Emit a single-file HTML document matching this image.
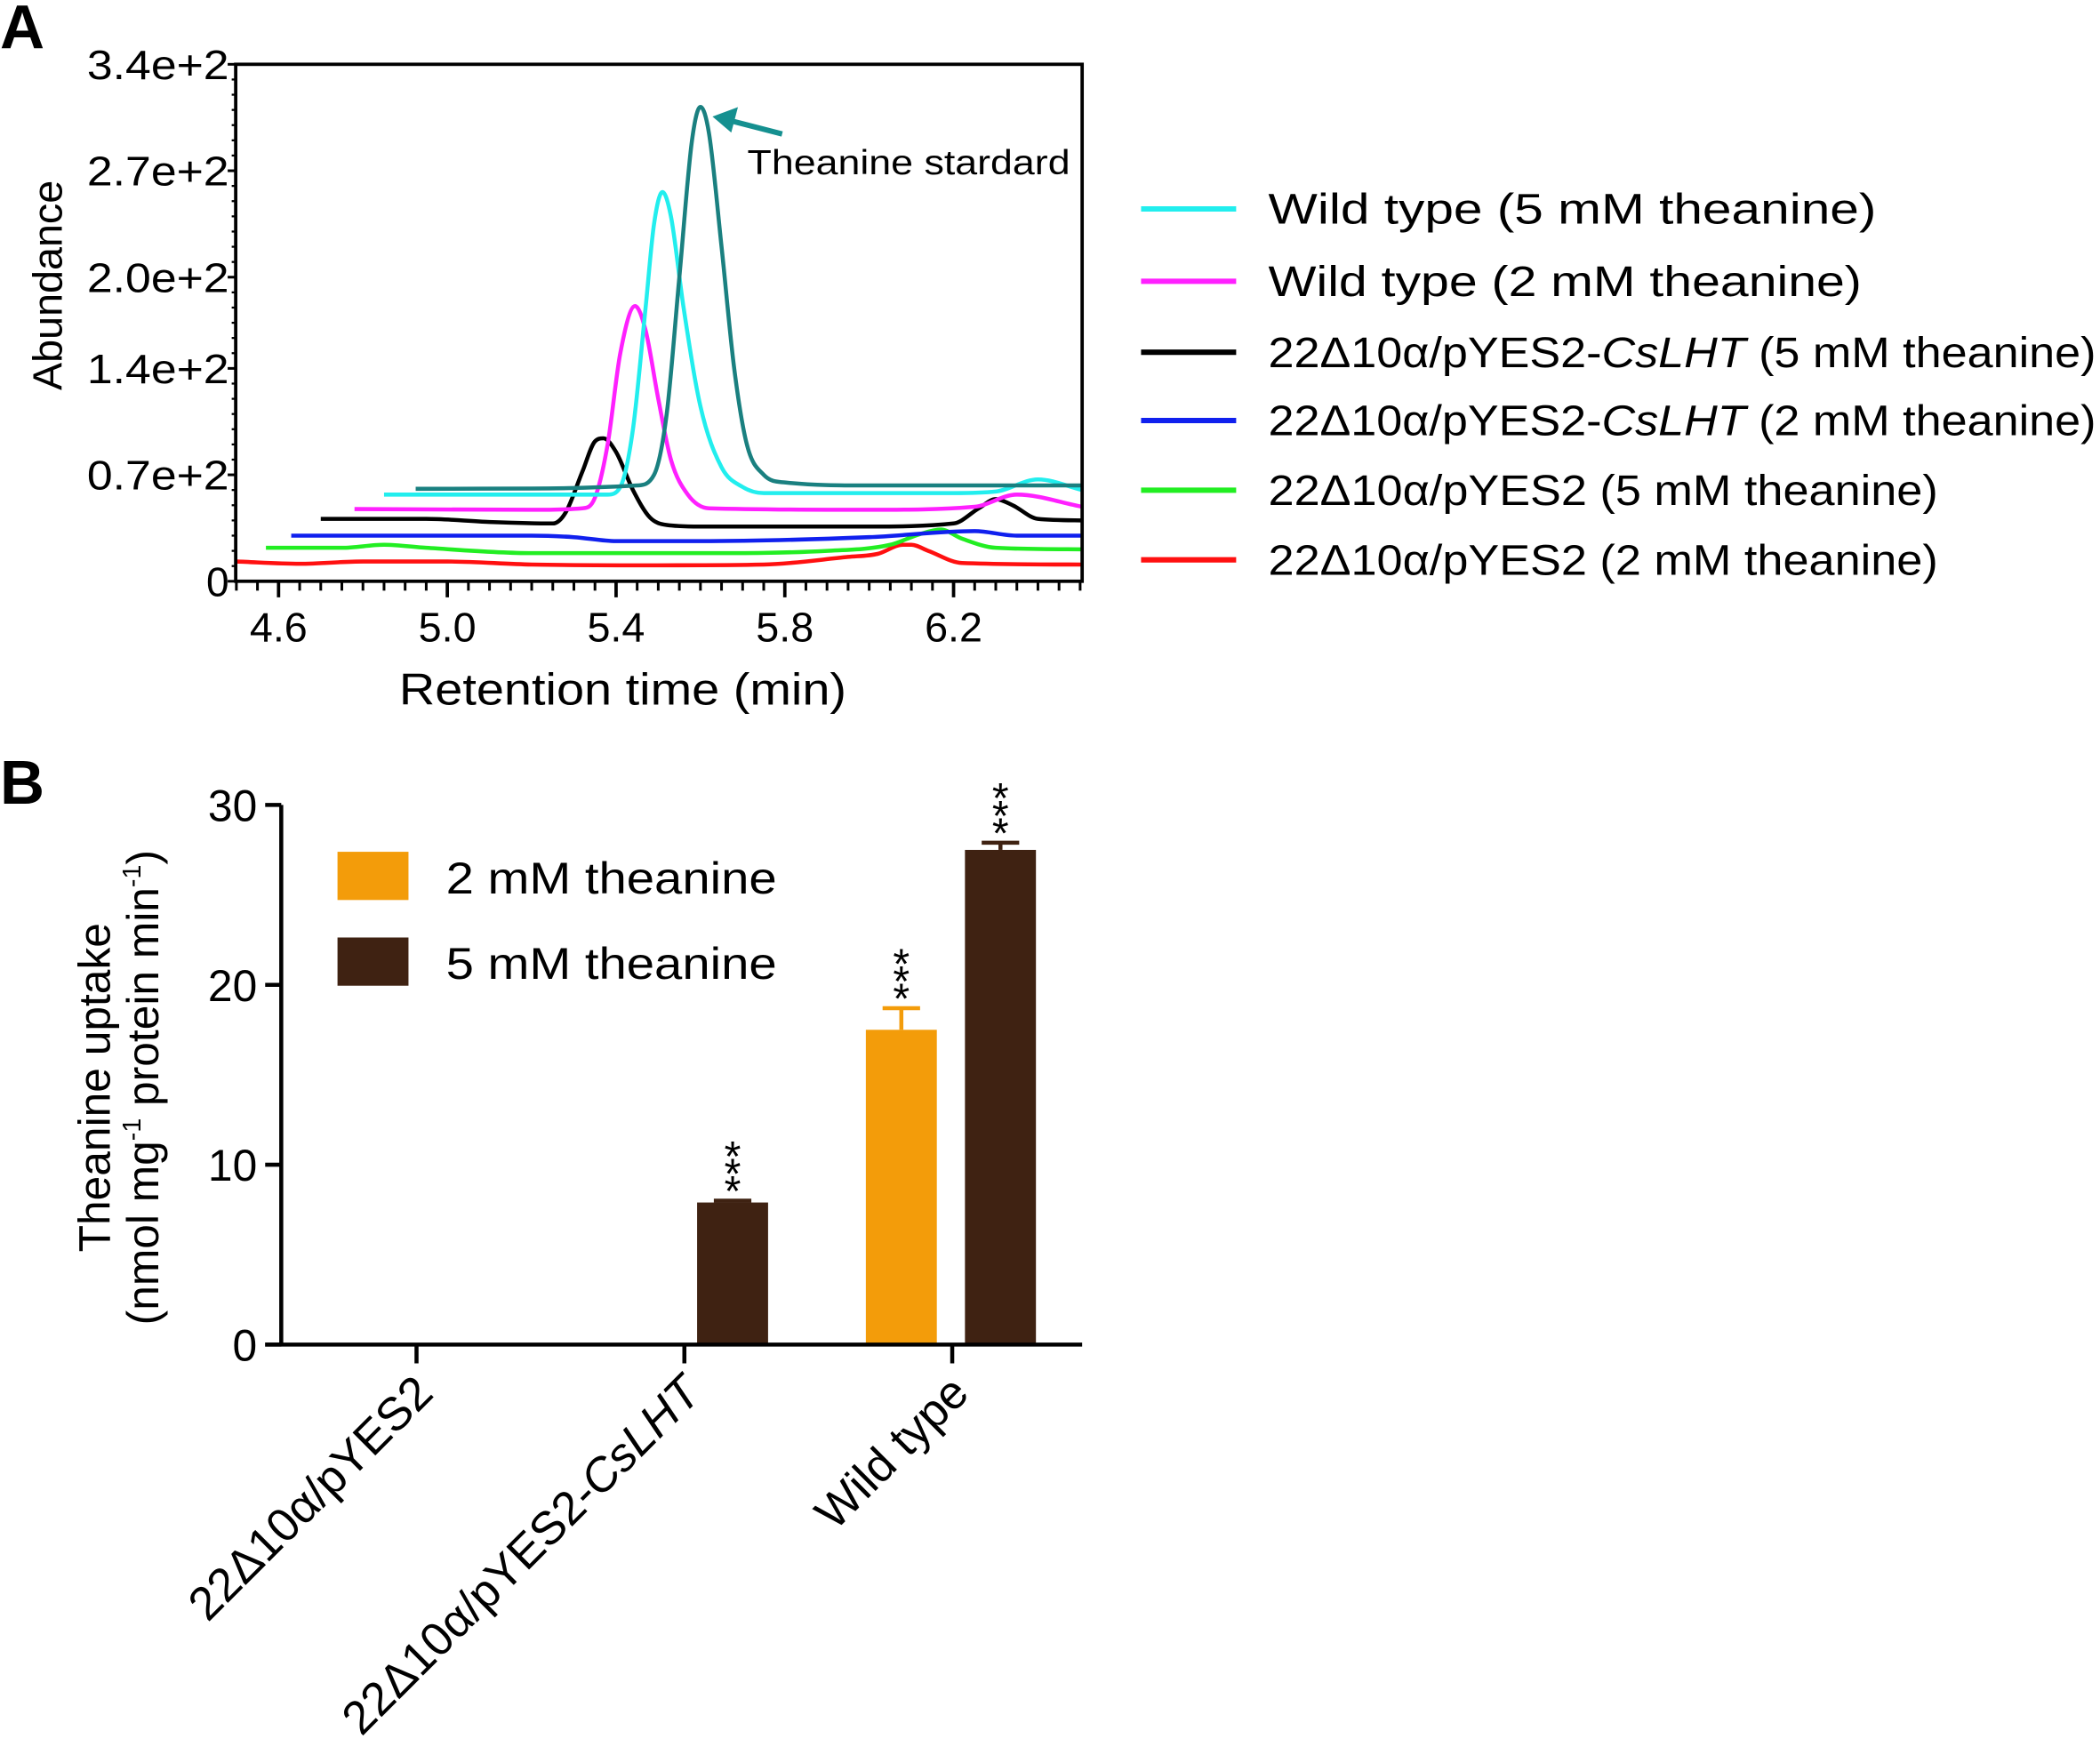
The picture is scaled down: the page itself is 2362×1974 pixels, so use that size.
<!DOCTYPE html>
<html><head><meta charset="utf-8"><style>
html,body{margin:0;padding:0;background:#fff}
svg{display:block;font-family:"Liberation Sans",Arial,sans-serif}
</style></head><body>
<svg id="fig" xmlns="http://www.w3.org/2000/svg" width="2362" height="1974" viewBox="0 0 1568 1310.4">
<g id="panelA"></g>
<g id="panelB"></g>
</svg>
<script>
// ---------- Panel A data ----------
const aYTicks = [0, 70, 140, 200, 270, 340];
const aYTickLabels = ["0", "0.7e+2", "1.4e+2", "2.0e+2", "2.7e+2", "3.4e+2"];
const aXTicks = [4.6, 5.0, 5.4, 5.8, 6.2];
const aXTickLabels = ["4.6", "5.0", "5.4", "5.8", "6.2"];
const tealT = [4.925, 5.2, 5.45, 5.49, 5.52, 5.55, 5.58, 5.6, 5.62, 5.65, 5.68, 5.71, 5.75, 5.8, 6.0, 6.3, 6.505];
const tealV = [60.8, 61, 63, 70, 110, 200, 290, 312, 295, 220, 140, 90, 70, 65, 63, 63, 63];
const cyanT = [4.85, 5.2, 5.38, 5.41, 5.44, 5.47, 5.49, 5.51, 5.53, 5.56, 5.6, 5.65, 5.7, 5.75, 6.2, 6.3, 6.4, 6.505];
const cyanV = [57, 57, 57, 62, 100, 180, 235, 256, 240, 180, 115, 75, 62, 58, 58, 59, 67, 60];
const magT = [4.78, 5.2, 5.32, 5.35, 5.38, 5.41, 5.445, 5.47, 5.5, 5.53, 5.57, 5.62, 6.0, 6.25, 6.35, 6.505];
const magV = [47.5, 47, 48, 55, 90, 150, 181, 165, 120, 80, 57, 48, 47, 49, 57, 49];
const blackT = [4.7, 4.95, 5.1, 5.25, 5.28, 5.32, 5.35, 5.37, 5.4, 5.44, 5.48, 5.52, 5.6, 6.0, 6.2, 6.26, 6.3, 6.34, 6.4, 6.505];
const blackV = [41, 41, 39, 38, 45, 72, 92, 94, 85, 60, 42, 37, 36, 36, 38, 48, 54, 50, 41, 40];
const blueT = [4.63, 4.9, 5.2, 5.3, 5.4, 5.6, 6.0, 6.25, 6.35, 6.505];
const blueV = [30, 30, 30, 29, 26.4, 26.4, 29, 33, 30, 30];
const greenT = [4.57, 4.75, 4.85, 4.95, 5.2, 5.6, 5.9, 6.05, 6.12, 6.17, 6.22, 6.3, 6.505];
const greenV = [22, 22, 24, 22, 18.5, 18.5, 20, 24, 31, 34, 28, 22, 21];
const redT = [4.5, 4.65, 4.8, 5.0, 5.2, 5.5, 5.75, 5.95, 6.02, 6.08, 6.1, 6.14, 6.22, 6.505];
const redV = [13, 11.5, 13, 13, 11, 10.5, 11, 16, 18, 24, 24, 20, 12, 11];
const aSeriesNames = ["Wild type  (5 mM theanine)", "Wild type (2 mM theanine)", "22Δ10α/pYES2-CsLHT (5 mM theanine)", "22Δ10α/pYES2-CsLHT (2 mM theanine)", "22Δ10α/pYES2 (5 mM theanine)", "22Δ10α/pYES2 (2 mM theanine)"];
// ---------- Panel B data ----------
const bCategories = ["22Δ10α/pYES2", "22Δ10α/pYES2-CsLHT", "Wild type"];
const b2mM = [0, 0, 17.5];
const b2mMErr = [0, 0, 1.2];
const b5mM = [0, 7.9, 27.5];
const b5mMErr = [0, 0.1, 0.4];
const bYTicks = [0, 10, 20, 30];
const bSig2 = ["", "", "***"];
const bSig5 = ["", "***", "***"];

const NS = "http://www.w3.org/2000/svg";
function mk(parent, tag, attrs, text) {
  const e = document.createElementNS(NS, tag);
  for (const k in attrs) e.setAttribute(k, attrs[k]);
  if (text !== undefined) e.textContent = text;
  parent.appendChild(e);
  return e;
}
// ---------- Panel A ----------
const A = document.getElementById('panelA');
const ax0 = 176, ax1 = 808, ay0 = 48, ay1 = 434;
const xA = t => 334 + (t - 5.0) * (126 / 0.4);
const yA = v => ay1 - v * (386 / 340);

let el;
el = mk(A, 'text', {x: 0, y: 36, 'font-size': 46, 'font-weight': 'bold'}, 'A');



function smoothPath(ts, vs) {
  const x = ts.map(xA), y = vs.map(yA), n = x.length;
  const d = [], m = new Array(n);
  for (let i = 0; i < n - 1; i++) d.push((y[i + 1] - y[i]) / (x[i + 1] - x[i]));
  m[0] = d[0]; m[n - 1] = d[n - 2];
  for (let i = 1; i < n - 1; i++) m[i] = (d[i - 1] * d[i] <= 0) ? 0 : (d[i - 1] + d[i]) / 2;
  for (let i = 0; i < n - 1; i++) {
    if (d[i] === 0) { m[i] = 0; m[i + 1] = 0; continue; }
    const a = m[i] / d[i], b = m[i + 1] / d[i], s = a * a + b * b;
    if (s > 9) { const t = 3 / Math.sqrt(s); m[i] = t * a * d[i]; m[i + 1] = t * b * d[i]; }
  }
  let p = `M${x[0]},${y[0]}`;
  for (let i = 0; i < n - 1; i++) {
    const h = (x[i + 1] - x[i]) / 3;
    p += ` C${x[i] + h},${y[i] + m[i] * h} ${x[i + 1] - h},${y[i + 1] - m[i + 1] * h} ${x[i + 1]},${y[i + 1]}`;
  }
  return p;
}
const traces = [
  [redT, redV, '#ff1010', 'trace-pyes2-2mm'],
  [greenT, greenV, '#22ee22', 'trace-pyes2-5mm'],
  [blueT, blueV, '#1020ee', 'trace-cslht-2mm'],
  [blackT, blackV, '#000000', 'trace-cslht-5mm'],
  [magT, magV, '#ff20ff', 'trace-wildtype-2mm'],
  [cyanT, cyanV, '#22eeee', 'trace-wildtype-5mm'],
  [tealT, tealV, '#1a8080', 'trace-theanine-standard']
];
const clip = mk(A, 'clipPath', {id: 'clipA'});
mk(clip, 'rect', {x: ax0, y: ay0, width: ax1 - ax0, height: ay1 - ay0});
for (const tr of traces) {
  el = mk(A, 'path', {d: smoothPath(tr[0], tr[1]), fill: 'none', stroke: tr[2], 'stroke-width': 3, 'clip-path': 'url(#clipA)'});
  
  
}
el = mk(A, 'rect', {x: ax0, y: ay0, width: ax1 - ax0, height: ay1 - ay0, fill: 'none', stroke: '#000', 'stroke-width': 2.5});


aYTicks.forEach((v, i) => {
  mk(A, 'line', {x1: ax0 - 6, x2: ax0, y1: yA(v), y2: yA(v), stroke: '#000', 'stroke-width': 2});
  el = mk(A, 'text', {x: 171, y: yA(v) + 11, 'font-size': 31, 'text-anchor': 'end', textLength: aYTickLabels[i].length > 1 ? 106 : 17, lengthAdjust: 'spacingAndGlyphs'}, aYTickLabels[i]);
  
  
});
for (let v = 0; v <= 340; v += 10) mk(A, 'line', {x1: ax0 - 3, x2: ax0, y1: yA(v), y2: yA(v), stroke: '#000', 'stroke-width': 1.5});
for (let t = 4.5; t <= 6.5; t += 0.05) mk(A, 'line', {x1: xA(t), x2: xA(t), y1: ay1, y2: ay1 + 7, stroke: '#000', 'stroke-width': 2});
aXTicks.forEach((t, i) => {
  mk(A, 'line', {x1: xA(t), x2: xA(t), y1: ay1, y2: ay1 + 12, stroke: '#000', 'stroke-width': 2.5});
  el = mk(A, 'text', {x: xA(t), y: 479, 'font-size': 31, 'text-anchor': 'middle'}, aXTickLabels[i]);
  
  
});
el = mk(A, 'text', {x: 465, y: 526, 'font-size': 33, 'text-anchor': 'middle', textLength: 334, lengthAdjust: 'spacingAndGlyphs'}, 'Retention time (min)');


el = mk(A, 'text', {x: 0, y: 0, 'font-size': 31, 'text-anchor': 'middle', transform: 'translate(46,213) rotate(-90)'}, 'Abundance');


el = mk(A, 'text', {x: 558, y: 130, 'font-size': 26, textLength: 241, lengthAdjust: 'spacingAndGlyphs'}, 'Theanine stardard');


el = mk(A, 'g', {});


mk(el, 'line', {x1: 584, y1: 100, x2: 545, y2: 90, stroke: '#159090', 'stroke-width': 4});
mk(el, 'polygon', {points: '532,87 551,80 546,99', fill: '#159090'});
const legColors = ['#22eeee', '#ff20ff', '#000000', '#1020ee', '#22ee22', '#ff1010'];
const legY = [156, 210, 263, 314, 366, 418];
const legW = [454, 443, 618, 618, 500, 500];
aSeriesNames.forEach((n, i) => {
  const g = mk(A, 'g', {});
  
  
  mk(g, 'line', {x1: 852, x2: 923, y1: legY[i], y2: legY[i], stroke: legColors[i], 'stroke-width': 4});
  const t = mk(g, 'text', {x: 947, y: legY[i] + 11, 'font-size': 32, textLength: legW[i], lengthAdjust: 'spacingAndGlyphs', 'xml:space': 'preserve'});
  if (n.includes('CsLHT')) {
    const parts = n.split('CsLHT');
    mk(t, 'tspan', {}, parts[0]);
    mk(t, 'tspan', {'font-style': 'italic'}, 'CsLHT');
    mk(t, 'tspan', {}, parts[1]);
  } else t.textContent = n;
});
// ---------- Panel B ----------
const B = document.getElementById('panelB');
const bx0 = 210, bx1 = 808, by0 = 1004;
const yB = v => by0 - v * (403 / 30);
const catX = [311, 511, 711];
const barW = 53;
el = mk(B, 'text', {x: 0, y: 600, 'font-size': 46, 'font-weight': 'bold'}, 'B');


function drawBar(cx, v, err, sig, color, name) {
  if (v <= 0) return;
  const g = mk(B, 'g', {});
  
  
  mk(g, 'rect', {x: cx - barW / 2, y: yB(v), width: barW, height: by0 - yB(v), fill: color});
  mk(g, 'line', {x1: cx, x2: cx, y1: yB(v), y2: yB(v + err), stroke: color, 'stroke-width': 3});
  mk(g, 'line', {x1: cx - 14, x2: cx + 14, y1: yB(v + err), y2: yB(v + err), stroke: color, 'stroke-width': 3});
  if (sig) {
    const top = yB(v + err) - 10;
    for (let k = 0; k < sig.length; k++) mk(g, 'text', {x: cx, y: top - k * 13 + 14, 'font-size': 32, 'text-anchor': 'middle'}, '*');
  }
}
bCategories.forEach((c, i) => {
  drawBar(catX[i] - 38, b2mM[i], b2mMErr[i], bSig2[i], '#f39c0a', 'bar-2mm');
  drawBar(catX[i] + 36, b5mM[i], b5mMErr[i], bSig5[i], '#3f2212', 'bar-5mm');
});
el = mk(B, 'line', {x1: bx0, x2: bx0, y1: yB(30), y2: by0 + 1, stroke: '#000', 'stroke-width': 3});


el = mk(B, 'line', {x1: bx0 - 12, x2: bx1, y1: by0, y2: by0, stroke: '#000', 'stroke-width': 3});


bYTicks.forEach(v => {
  mk(B, 'line', {x1: bx0 - 12, x2: bx0, y1: yB(v), y2: yB(v), stroke: '#000', 'stroke-width': 3});
  el = mk(B, 'text', {x: 192, y: yB(v) + 12, 'font-size': 33, 'text-anchor': 'end'}, String(v));
  
  
});
bCategories.forEach((c, i) => {
  mk(B, 'line', {x1: catX[i], x2: catX[i], y1: by0, y2: by0 + 14, stroke: '#000', 'stroke-width': 3});
  const t = mk(B, 'text', {x: 0, y: 0, 'font-size': 35, 'text-anchor': 'end', transform: `translate(${catX[i] + 14},${1042}) rotate(-45)`});
  
  
  if (c.includes('CsLHT')) {
    mk(t, 'tspan', {}, c.replace('CsLHT', ''));
    mk(t, 'tspan', {'font-style': 'italic'}, 'CsLHT');
  } else t.textContent = c;
});
el = mk(B, 'text', {x: 0, y: 0, 'font-size': 33, 'text-anchor': 'middle', transform: 'translate(82,812) rotate(-90)'}, 'Theanine uptake');


el = mk(B, 'text', {x: 0, y: 0, 'font-size': 33, 'text-anchor': 'middle', transform: 'translate(118,812) rotate(-90)'});


mk(el, 'tspan', {}, '(nmol mg');
mk(el, 'tspan', {'font-size': 19, dy: -13}, '-1');
mk(el, 'tspan', {dy: 13}, ' protein min');
mk(el, 'tspan', {'font-size': 19, dy: -13}, '-1');
mk(el, 'tspan', {dy: 13}, ')');
[['#f39c0a', '2 mM theanine', 636], ['#3f2212', '5 mM theanine', 700]].forEach(l => {
  const g = mk(B, 'g', {});
  
  
  mk(g, 'rect', {x: 252, y: l[2], width: 53, height: 36, fill: l[0]});
  mk(g, 'text', {x: 333, y: l[2] + 31, 'font-size': 33, textLength: 247, lengthAdjust: 'spacingAndGlyphs'}, l[1]);
});
</script>
</body></html>
